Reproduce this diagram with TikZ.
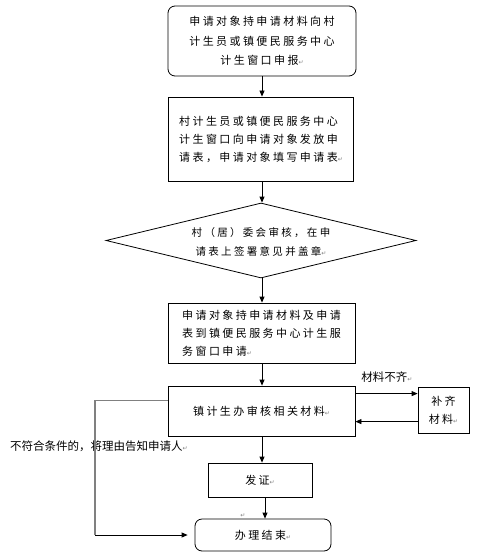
\documentclass[tikz,border=0pt]{standalone}
\usepackage{fontspec}
\usetikzlibrary{shapes.geometric,arrows.meta,calc}
\newfontfamily\cjk[LetterSpace=22]{Noto Sans CJK SC}
\newfontfamily\cjkn{Noto Sans CJK SC}
\newfontfamily\symf{DejaVu Sans}
\newcommand{\pmk}{{\symf\fontsize{6}{6}\selectfont\textcolor{gray}{↵}}}
\tikzset{
  box/.style={draw, line width=0.8pt, inner sep=0pt, font=\cjk\fontsize{11}{18}\selectfont},
  rbox/.style={box, rounded corners=7pt},
  arr/.style={-{Triangle[length=6pt,width=5pt]}, line width=0.8pt},
  gline/.style={line width=1.4pt, draw=gray},
  lbl/.style={inner sep=0pt, font=\cjkn\fontsize{11.5}{14}\selectfont},
}
\begin{document}
\begin{tikzpicture}[x=1pt,y=-1pt]
\useasboundingbox (0,0) rectangle (491,556);
\node[rbox, minimum width=188pt, minimum height=70pt, align=center,
      font=\cjk\fontsize{11}{19.5}\selectfont] (b1) at (262,41)
  {申请对象持申请材料向村\\计生员或镇便民服务中心\\计生窗口申报\pmk};
\node[box, minimum width=185pt, minimum height=84pt, align=left] (b2) at (261,139)
  {村计生员或镇便民服务中心\\计生窗口向申请对象发放申\\请表，申请对象填写申请表\pmk};
\node[draw, diamond, line width=0.8pt, inner sep=0pt, minimum width=310pt, minimum height=75pt] (d) at (261,240.5) {};
\node[inner sep=0pt, align=center, font=\cjk\fontsize{10.5}{19}\selectfont] (dt) at (261,242)
  {村（居）委会审核，在申\\请表上签署意见并盖章\pmk};
\node[box, minimum width=187pt, minimum height=60pt, align=left] (b4) at (261.5,333)
  {申请对象持申请材料及申请\\表到镇便民服务中心计生服\\务窗口申请\pmk};
\node[box, minimum width=187pt, minimum height=50pt] (b5) at (261.5,411)
  {镇计生办审核相关材料\pmk};
\node[box, minimum width=51pt, minimum height=46pt, align=center] (b6) at (443.5,410)
  {补齐\\材料\pmk};
\node[box, minimum width=104pt, minimum height=34pt] (b7) at (260,480)
  {发证\pmk};
\node[rbox, minimum width=136pt, minimum height=32pt] (b8) at (263,535)
  {办理结束\pmk};
\node[lbl] (l1) at (387,377) {材料不齐\pmk};
\node[lbl, anchor=west] (l2) at (10,446) {不符合条件的，将理由告知申请人\pmk};
\node[inner sep=0pt] (pm) at (243,516) {\pmk};
% helper coordinates
\coordinate (r1) at ($(b5.north east)+(0,8)$);
\coordinate (r2) at ($(b6.north west)+(0,35)$);
\coordinate (g1) at ($(b5.north west)+(0,15)$);
\coordinate (g2) at (95,535);
% connectors
\draw[arr] (b1.south -| 262,0) -- (b2.north -| 262,0);
\draw[arr] (b2.south -| 262,0) -- (d.north -| 262,0);
\draw[arr] (d.south -| 262,0) -- (b4.north -| 262,0);
\draw[arr] (b4.south -| 262,0) -- (b5.north -| 262,0);
\draw[arr] (b5.south -| 262,0) -- (b7.north -| 262,0);
\draw[arr] (b7.south -| 265,0) -- (b8.north -| 265,0);
\draw[arr] (r1) -- (r1 -| b6.west);
\draw[arr] (r2) -- (r2 -| b5.east);
\draw[gline] (g1) -| (g2);
\draw[arr, shorten >=7pt] (g2) -- (b8.west);
\end{tikzpicture}
\end{document}
